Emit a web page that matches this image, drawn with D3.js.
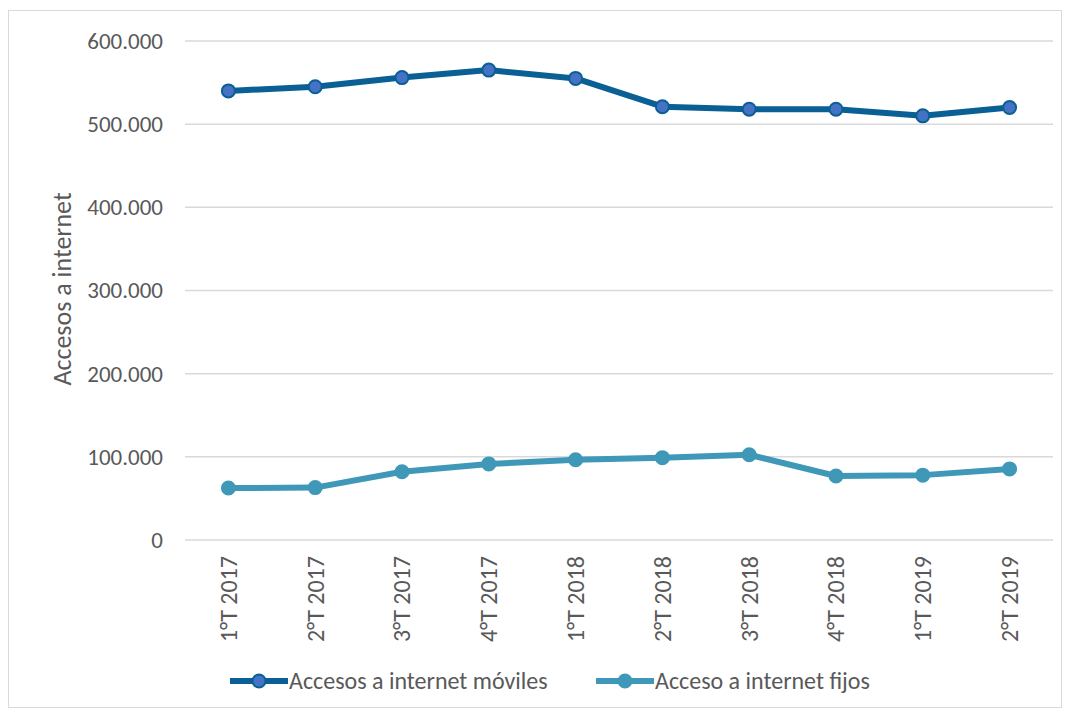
<!DOCTYPE html>
<html>
<head>
<meta charset="utf-8">
<script src="https://cdnjs.cloudflare.com/ajax/libs/d3/7.8.5/d3.min.js"></script>
<style>
  body { margin: 0; background: #fff; }
  text { font-family: Carlito, Lato, "Open Sans", sans-serif; fill: #595959; }
</style>
</head>
<body>
<div id="chart"></div>
<script>
const quarters = ["1°T 2017", "2°T 2017", "3°T 2017", "4°T 2017", "1°T 2018",
                  "2°T 2018", "3°T 2018", "4°T 2018", "1°T 2019", "2°T 2019"];
const moviles = [540000, 545000, 556000, 565000, 555000, 521000, 518000, 518000, 510000, 520000];
const fijos = [62500, 63000, 82000, 91500, 96500, 99000, 102500, 77000, 78000, 85500];
const yTicks = [0, 100000, 200000, 300000, 400000, 500000, 600000];

const series = [
  { name: "Accesos a internet móviles", values: moviles, line: "#0a5f94", fill: "#4472c4", stroke: "#0a5f94" },
  { name: "Acceso a internet fijos", values: fijos, line: "#3f98b7", fill: "#3f98b7", stroke: "#3f98b7" }
];

const width = 1067, height = 715;
const margin = { top: 41, right: 14, bottom: 175, left: 185 };

const svg = d3.select("#chart").append("svg")
  .attr("width", width)
  .attr("height", height);

svg.append("rect")
  .attr("x", 8.5).attr("y", 10.5)
  .attr("width", 1053).attr("height", 697)
  .attr("fill", "none")
  .attr("stroke", "#d9d9d9");

const x = d3.scaleBand()
  .domain(quarters)
  .range([margin.left, width - margin.right]);

const y = d3.scaleLinear()
  .domain([0, 600000])
  .range([height - margin.bottom, margin.top]);

const fmt = d => d3.format(",")(d).replace(/,/g, ".");

// gridlines
svg.append("g")
  .selectAll("line")
  .data(yTicks)
  .enter()
  .append("line")
  .attr("x1", margin.left)
  .attr("x2", width - margin.right)
  .attr("y1", d => y(d))
  .attr("y2", d => y(d))
  .attr("stroke", "#d9d9d9")
  .attr("stroke-width", 1.5);

// y axis labels
const yAxis = d3.axisLeft(y).tickValues(yTicks).tickFormat(fmt).tickSize(0).tickPadding(22);
svg.append("g")
  .attr("transform", `translate(${margin.left},0)`)
  .call(yAxis)
  .call(g => g.select(".domain").remove())
  .selectAll("text")
  .style("font-family", "Carlito, Lato, sans-serif")
  .style("font-size", "23px")
  .style("fill", "#595959");

// x axis labels
const xAxis = d3.axisBottom(x).tickSize(0).tickPadding(0);
svg.append("g")
  .attr("transform", `translate(0,${y(0)})`)
  .call(xAxis)
  .call(g => g.select(".domain").remove())
  .selectAll("text")
  .attr("transform", "rotate(-90)")
  .attr("text-anchor", "end")
  .attr("x", -16)
  .attr("y", 0)
  .attr("dy", "0.35em")
  .style("font-family", "Carlito, Lato, sans-serif")
  .style("font-size", "24px")
  .style("fill", "#595959");

// axis title
svg.append("text")
  .attr("transform", "translate(71,289) rotate(-90)")
  .attr("text-anchor", "middle")
  .style("font-size", "26px")
  .text("Accesos a internet");

const line = d3.line()
  .x((d, i) => x(quarters[i]) + x.bandwidth() / 2)
  .y(d => y(d));

series.forEach(s => {
  svg.append("path")
    .datum(s.values)
    .attr("d", line)
    .attr("fill", "none")
    .attr("stroke", s.line)
    .attr("stroke-width", 6)
    .attr("stroke-linejoin", "round");

  svg.append("g")
    .selectAll("circle")
    .data(s.values)
    .enter()
    .append("circle")
    .attr("cx", (d, i) => x(quarters[i]) + x.bandwidth() / 2)
    .attr("cy", d => y(d))
    .attr("r", 6.5)
    .attr("fill", s.fill)
    .attr("stroke", s.stroke)
    .attr("stroke-width", 2);
});

// legend
const legendPos = [230, 596];
const legend = svg.append("g")
  .selectAll("g")
  .data(series)
  .enter()
  .append("g")
  .attr("transform", (d, i) => `translate(${legendPos[i]},681)`);

legend.append("line")
  .attr("x1", 0).attr("x2", 58)
  .attr("stroke", d => d.line)
  .attr("stroke-width", 6);

legend.append("circle")
  .attr("cx", 29).attr("r", 6.5)
  .attr("fill", d => d.fill)
  .attr("stroke", d => d.stroke)
  .attr("stroke-width", 2);

legend.append("text")
  .attr("x", 59)
  .attr("dy", "0.35em")
  .style("font-size", "24px")
  .text(d => d.name);
</script>
</body>
</html>
